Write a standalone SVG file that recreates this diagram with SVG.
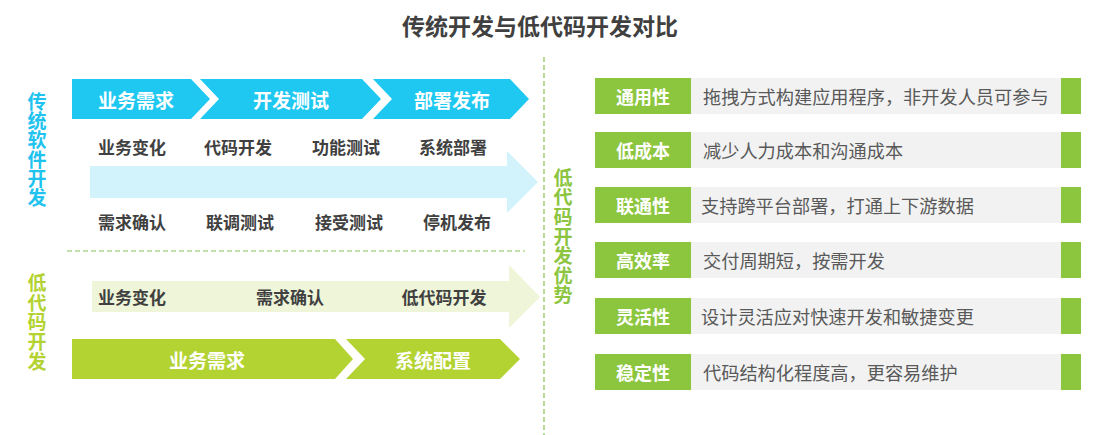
<svg xmlns="http://www.w3.org/2000/svg" width="1103" height="435" viewBox="0 0 1103 435">
<style>
text{font-family:"Noto Sans CJK SC","Noto Sans",sans-serif;dominant-baseline:central;text-anchor:middle}
.title{font-size:23px;font-weight:bold;fill:#404040}
.chev{fill:#1fc8f1}
.gchev{fill:#b3d333}
.wt{fill:#fff;font-weight:bold;font-size:19px}
.lbl{fill:#404040;font-weight:bold;font-size:17px}
.vt{font-weight:bold;font-size:19px;writing-mode:vertical-rl;text-anchor:start}
.gbox{fill:#8cc63f}
.gray{fill:#f2f2f2}
.bt{fill:#fff;font-weight:bold;font-size:18px}
.dt{fill:#595959;font-size:18.2px;text-anchor:start}
.dash{stroke:#8cc152;stroke-width:1.2;stroke-dasharray:5 3;fill:none}
</style>
<rect width="1103" height="435" fill="#fff"/>
<text class="title" x="540" y="25">传统开发与低代码开发对比</text>

<g id="connectors">
<line class="dash" x1="544" y1="57" x2="544" y2="435"/>
<line class="dash" x1="67" y1="251" x2="525" y2="251"/>
</g>

<g id="trad-label">
<text class="vt" fill="#20c2ef" x="37" y="92" letter-spacing="0.3">传统软件开发</text>
</g>
<g id="trad-step1"><path class="chev" d="M72,79 H191 L210,99 L191,119 H72 Z"/><text class="wt" x="136" y="99">业务需求</text></g>
<g id="trad-step2"><path class="chev" d="M200,79 H362 L381,99 L362,119 H200 L219,99 Z"/><text class="wt" x="291" y="99">开发测试</text></g>
<g id="trad-step3"><path class="chev" d="M373,79 H510 L529,99 L510,119 H373 L392,99 Z"/><text class="wt" x="452" y="99">部署发布</text></g>
<g id="trad-flow">
<path fill="#d2f3fb" d="M90,166 H507 V151 L538,182 L507,213 V198 H90 Z"/>
<text class="lbl" x="132" y="146">业务变化</text>
<text class="lbl" x="238" y="146">代码开发</text>
<text class="lbl" x="346" y="146">功能测试</text>
<text class="lbl" x="453" y="146">系统部署</text>
<text class="lbl" x="132" y="221">需求确认</text>
<text class="lbl" x="240" y="221">联调测试</text>
<text class="lbl" x="349" y="221">接受测试</text>
<text class="lbl" x="457" y="221">停机发布</text>
</g>

<g id="lc-label">
<text class="vt" fill="#b4d333" x="37" y="273" letter-spacing="0.8">低代码开发</text>
</g>
<g id="lc-flow">
<path fill="#eef5d8" d="M92,281 H509 V265 L540,297 L509,328 V312 H92 Z"/>
<text class="lbl" x="132" y="296">业务变化</text>
<text class="lbl" x="290" y="296">需求确认</text>
<text class="lbl" x="444" y="296">低代码开发</text>
</g>
<g id="lc-step1"><path class="gchev" d="M72,339 H335 L353,359 L335,379 H72 Z"/><text class="wt" x="207" y="359">业务需求</text></g>
<g id="lc-step2"><path class="gchev" d="M346,339 H500 L520,359 L500,379 H346 L365,359 Z"/><text class="wt" x="433" y="359">系统配置</text></g>

<g id="adv-label">
<text class="vt" fill="#8cc540" x="563" y="168" letter-spacing="0.6">低代码开发优势</text>
</g>

<g id="adv1"><rect class="gbox" x="595" y="78" width="96" height="36"/><rect class="gray" x="691" y="78" width="370" height="36"/><rect class="gbox" x="1061" y="78" width="20" height="36"/><text class="bt" x="643" y="96">通用性</text><text class="dt" x="703" y="96">拖拽方式构建应用程序，非开发人员可参与</text></g>
<g id="adv2"><rect class="gbox" x="595" y="132" width="96" height="36"/><rect class="gray" x="691" y="132" width="370" height="36"/><rect class="gbox" x="1061" y="132" width="20" height="36"/><text class="bt" x="643" y="150">低成本</text><text class="dt" x="703" y="150">减少人力成本和沟通成本</text></g>
<g id="adv3"><rect class="gbox" x="595" y="187" width="96" height="36"/><rect class="gray" x="691" y="187" width="370" height="36"/><rect class="gbox" x="1061" y="187" width="20" height="36"/><text class="bt" x="643" y="205">联通性</text><text class="dt" x="701" y="205">支持跨平台部署，打通上下游数据</text></g>
<g id="adv4"><rect class="gbox" x="595" y="242" width="96" height="36"/><rect class="gray" x="691" y="242" width="370" height="36"/><rect class="gbox" x="1061" y="242" width="20" height="36"/><text class="bt" x="643" y="260">高效率</text><text class="dt" x="703" y="260">交付周期短，按需开发</text></g>
<g id="adv5"><rect class="gbox" x="595" y="298" width="96" height="36"/><rect class="gray" x="691" y="298" width="370" height="36"/><rect class="gbox" x="1061" y="298" width="20" height="36"/><text class="bt" x="643" y="316">灵活性</text><text class="dt" x="701" y="316">设计灵活应对快速开发和敏捷变更</text></g>
<g id="adv6"><rect class="gbox" x="595" y="354" width="96" height="36"/><rect class="gray" x="691" y="354" width="370" height="36"/><rect class="gbox" x="1061" y="354" width="20" height="36"/><text class="bt" x="643" y="372">稳定性</text><text class="dt" x="703" y="372">代码结构化程度高，更容易维护</text></g>
</svg>
